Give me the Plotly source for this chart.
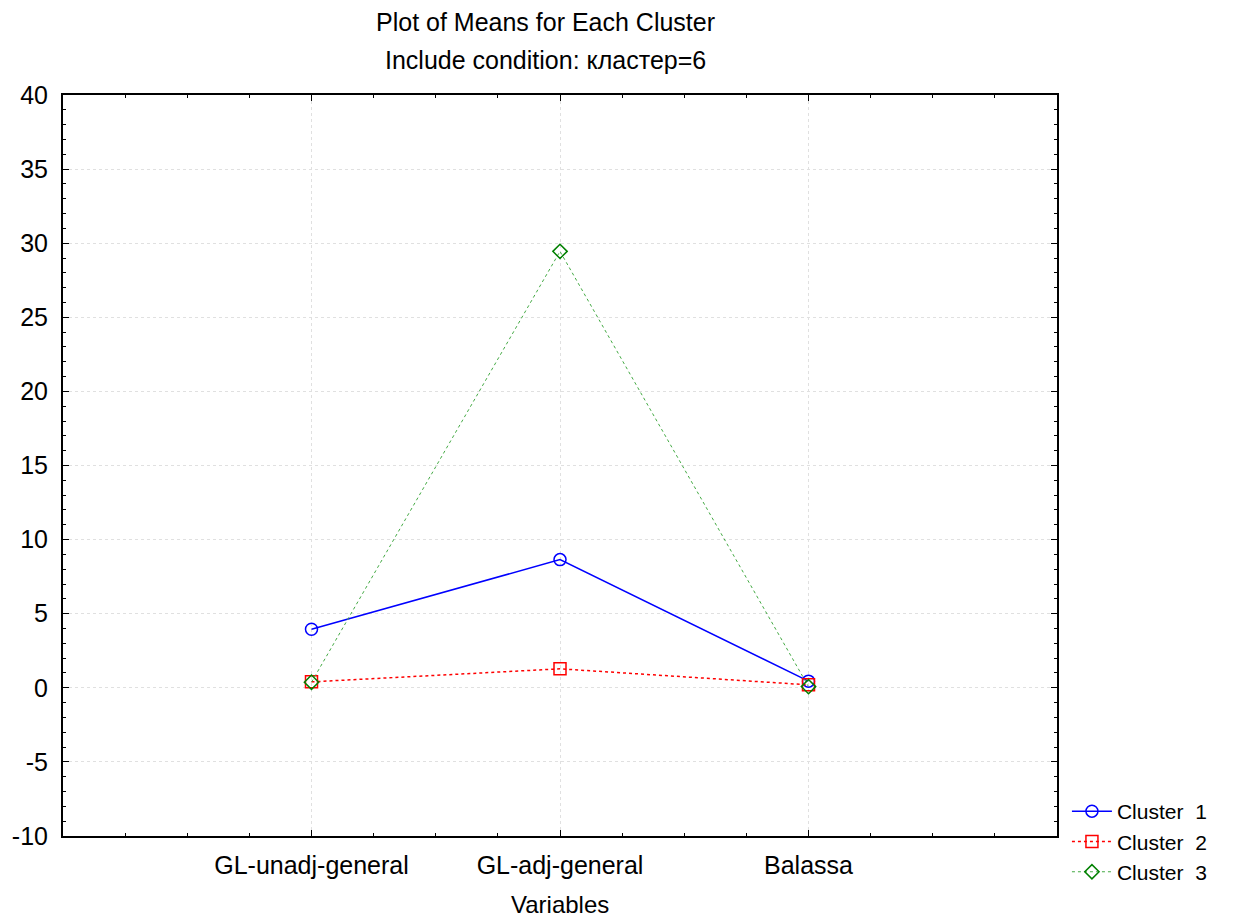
import plotly.graph_objects as go

categories = ["GL-unadj-general", "GL-adj-general", "Balassa"]
cluster1 = [3.95, 8.65, 0.45]
cluster2 = [0.4, 1.28, 0.2]
cluster3 = [0.38, 29.45, 0.08]
y_ticks = [-10, -5, 0, 5, 10, 15, 20, 25, 30, 35, 40]
y_tick_text = [str(v) for v in y_ticks]  # plain hyphen minus

xpos = [1, 2, 3]
FONT = "Liberation Sans, Arial, sans-serif"

fig = go.Figure()
fig.add_trace(go.Scatter(
    x=xpos, y=cluster1, name="Cluster  1", mode="lines+markers",
    line=dict(color="#0000ff", width=1.5),
    marker=dict(symbol="circle-open", size=12, color="#0000ff", line=dict(width=1.5))))
fig.add_trace(go.Scatter(
    x=xpos, y=cluster2, name="Cluster  2", mode="lines+markers",
    line=dict(color="#ff0000", width=1.5, dash="dot"),
    marker=dict(symbol="square-open", size=12, color="#ff0000", line=dict(width=1.5))))
fig.add_trace(go.Scatter(
    x=xpos, y=cluster3, name="Cluster  3", mode="lines+markers",
    line=dict(color="#44aa44", width=1, dash="dot"),
    marker=dict(symbol="diamond-open", size=11, color="#008000", line=dict(width=1.5))))

fig.update_layout(
    width=1236, height=919,
    paper_bgcolor="white", plot_bgcolor="white",
    margin=dict(l=63, r=179, t=95, b=83, autoexpand=False),
    font=dict(family=FONT, size=25, color="black"),
    showlegend=True,
    legend=dict(x=1.01, xanchor="left", yref="container", y=(919 - 791) / 919, yanchor="top",
                font=dict(size=21), tracegroupgap=0, itemwidth=40,
                bgcolor="rgba(0,0,0,0)"),
    annotations=[
        dict(text="Plot of Means for Each Cluster", xref="paper", yref="paper",
             x=0.485, y=1 + (95 - 22) / 741, xanchor="center", yanchor="middle",
             showarrow=False, font=dict(size=25)),
        dict(text="Include condition: кластер=6", xref="paper", yref="paper",
             x=0.485, y=1 + (95 - 60) / 741, xanchor="center", yanchor="middle",
             showarrow=False, font=dict(size=25)),
        dict(text="Variables", xref="paper", yref="paper",
             x=0.5, y=-(904 - 836) / 741, xanchor="center", yanchor="middle",
             showarrow=False, font=dict(size=24)),
    ],
)
fig.update_xaxes(
    range=[0, 4], tickmode="array", tickvals=xpos, ticktext=categories,
    showline=True, linecolor="black", linewidth=2, mirror="ticks",
    ticks="inside", ticklen=6, tickcolor="black",
    minor=dict(dtick=0.25, tick0=0, ticks="inside", ticklen=3, tickcolor="black", showgrid=False),
    showgrid=True, gridcolor="#e0e0e0", griddash="dot", gridwidth=1,
    zeroline=False,
    tickfont=dict(size=25), ticklabelstandoff=6,
)
fig.update_yaxes(
    range=[-10, 40], tickmode="array", tickvals=y_ticks, ticktext=y_tick_text,
    showline=True, linecolor="black", linewidth=2, mirror="ticks",
    ticks="inside", ticklen=6, tickcolor="black",
    minor=dict(dtick=1, tick0=0, ticks="inside", ticklen=3, tickcolor="black", showgrid=False),
    showgrid=True, gridcolor="#e0e0e0", griddash="dot", gridwidth=1,
    zeroline=False, tickfont=dict(size=25), ticklabelstandoff=8,
)

fig.write_html("out.html", config={"displayModeBar": False},
               post_script="document.body.style.margin='0px';")
